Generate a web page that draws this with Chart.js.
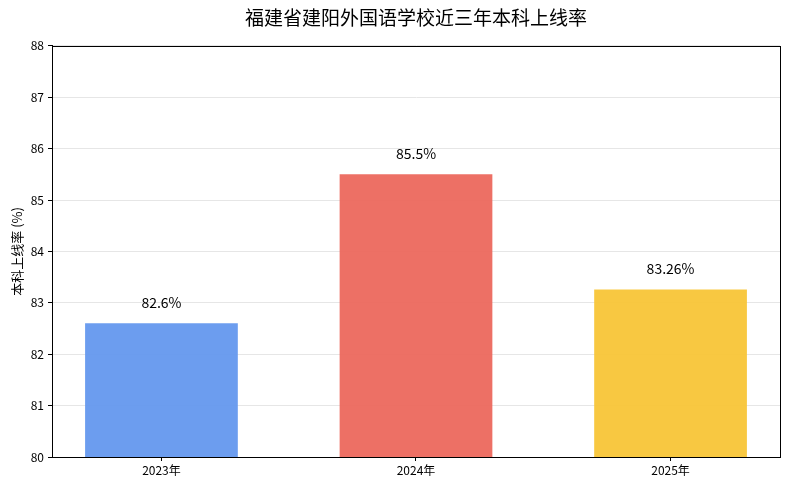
<!DOCTYPE html>
<html>
<head>
<meta charset="utf-8">
<script src="https://cdn.jsdelivr.net/npm/chart.js@4/dist/chart.umd.min.js"></script>
<style>
  html, body { margin: 0; padding: 0; background: #fff; }
  #wrap { width: 790px; height: 490px; }
</style>
</head>
<body>
<div id="wrap"><canvas id="chart" width="790" height="490"></canvas></div>
<script>
const years = ['2023年', '2024年', '2025年'];
const rates = [82.6, 85.5, 83.26];
const rateLabels = ['82.6%', '85.5%', '83.26%'];
const barColors = ['rgba(100,152,238,0.95)', 'rgba(236,104,93,0.95)', 'rgba(248,197,55,0.95)'];
const yTicks = [80, 81, 82, 83, 84, 85, 86, 87, 88];

const FONT = "'Noto Sans CJK SC', 'Noto Sans', sans-serif";

// labels above bars + black frame around plot
const barLabels = {
    id: 'barLabels',
    afterDatasetsDraw(chart) {
        const ctx = chart.ctx;
        const meta = chart.getDatasetMeta(0);
        ctx.save();
        ctx.fillStyle = '#000';
        ctx.font = '14px ' + FONT;
        ctx.textAlign = 'center';
        ctx.textBaseline = 'middle';
        meta.data.forEach((bar, i) => {
            ctx.fillText(rateLabels[i], bar.x, bar.y - 21);
        });
        const a = chart.chartArea;
        ctx.strokeStyle = '#000';
        ctx.lineWidth = 1;
        ctx.strokeRect(Math.round(a.left) + 0.5, Math.round(a.top) + 0.5,
            Math.round(a.right - a.left), Math.round(a.bottom - a.top));
        ctx.restore();
    }
};

new Chart(document.getElementById('chart').getContext('2d'), {
    type: 'bar',
    data: {
        datasets: [{
            data: rates.map((v, i) => ({ x: i, y: v })),
            backgroundColor: barColors,
            borderWidth: 0,
            categoryPercentage: 1,
            barPercentage: 0.6
        }]
    },
    options: {
        responsive: false,
        animation: false,
        layout: { padding: { left: 9, right: 10, top: 0, bottom: 0 } },
        plugins: {
            legend: { display: false },
            tooltip: { enabled: false },
            title: {
                display: true,
                fullSize: false,
                text: '福建省建阳外国语学校近三年本科上线率',
                color: '#000',
                font: { family: FONT, size: 19, weight: 'normal' },
                padding: { top: 6, bottom: 17 }
            }
        },
        scales: {
            x: {
                type: 'linear',
                offset: false,
                min: -0.43,
                max: 2.43,
                afterBuildTicks: (scale) => { scale.ticks = years.map((_, i) => ({ value: i })); },
                ticks: {
                    color: '#000',
                    font: { family: FONT, size: 12 },
                    padding: 2,
                    callback: (v) => years[v]
                },
                grid: { offset: false, drawOnChartArea: false, tickColor: '#000', tickLength: 4 },
                border: { color: '#000' },
                afterFit: (scale) => { scale.height = 33; }
            },
            y: {
                min: 80,
                max: 88,
                afterBuildTicks: (scale) => { scale.ticks = yTicks.map(v => ({ value: v })); },
                ticks: {
                    color: '#000',
                    font: { family: FONT, size: 12 },
                    padding: 4
                },
                grid: { color: '#e6e6e6', tickColor: '#000', tickLength: 4 },
                border: { color: '#000' },
                title: {
                    display: true,
                    text: '本科上线率 (%)',
                    color: '#000',
                    font: { family: FONT, size: 13 },
                    padding: 0
                },
                afterFit: (scale) => { scale.width = 43; }
            }
        }
    },
    plugins: [barLabels]
});
</script>
</body>
</html>
